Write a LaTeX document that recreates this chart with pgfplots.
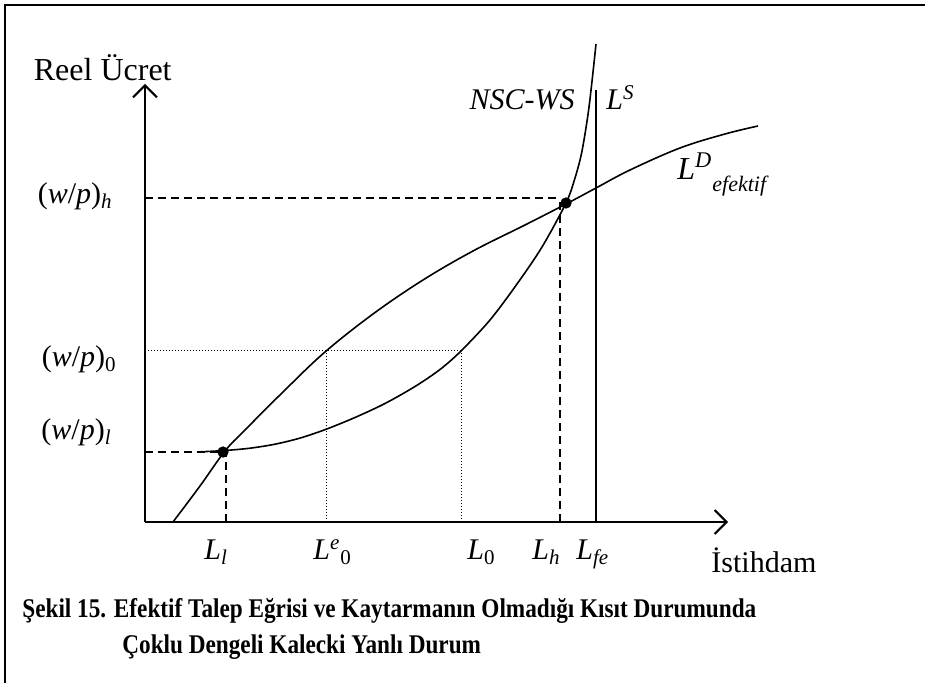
\documentclass[border=0pt]{standalone}
\usepackage{pgfplots}
\pgfplotsset{compat=1.18}
\usetikzlibrary{arrows.meta}
\usepackage{fontspec}
\setmainfont{Liberation Serif}
\newfontfamily\capfont[FakeStretch=0.86]{Liberation Serif}
\newcommand{\lab}{\fontsize{15}{18}\selectfont}
\begin{document}
\begin{tikzpicture}
\path[use as bounding box] (-72.5pt,-80.5pt) rectangle (390pt,261pt);
\draw[line width=1pt] (-70pt,-82pt) -- (-70pt,258.5pt) -- (395pt,258.5pt);
\begin{axis}[
  at={(0pt,0pt)}, anchor=south west, scale only axis,
  width=291.5pt, height=219pt,
  xmin=0, xmax=583, ymin=0, ymax=438,
  axis lines*=left,
  axis line style={line width=1pt,-{Straight Barb[length=6pt,width=12pt,line width=1pt]}},
  ticks=none, clip=false,
  dsh/.style={line width=0.9pt, dash pattern=on 4pt off 2.5pt},
  dtt/.style={line width=0.5pt, dash pattern=on 0.5pt off 1pt},
]
% effective labour demand
\addplot[line width=0.8pt, smooth, tension=0.6] coordinates {
(28,0) (55,36) (80,71) (100,92) (140,132) (180,170) (228,208) (278,242)
(328,271) (380,297) (421,318) (451,334) (485,352) (535,374) (580,388) (613,396)};
% NSC-WS
\addplot[line width=0.8pt, smooth, tension=0.5] coordinates {
(52,70) (80,71.5) (105,73.8) (130,77.8) (155,83.9) (181,92.7) (210,104.5)
(240,118.5) (270,135.5) (295,152.5) (316,171) (345,202) (372,238) (397,275)
(421,319) (430,344) (437,371) (444,415) (451,478)};
% L^S
\addplot[line width=0.8pt] coordinates {(451,0) (451,432)};
% dashed guides
\addplot[dsh] coordinates {(0,70) (78,70)};
\addplot[dsh] coordinates {(81,0) (81,70)};
\addplot[dsh] coordinates {(0,324) (415,324)};
\addplot[dsh] coordinates {(415,0) (415,324)};
% dotted guides
\addplot[dtt] coordinates {(0,171) (316,171)};
\addplot[dtt] coordinates {(181,0) (181,171)};
\addplot[dtt] coordinates {(316,0) (316,171)};
% equilibria
\addplot[only marks, mark=*, mark size=2.6pt] coordinates {(78,70) (421,319)};
% labels
\node[anchor=base east, inner sep=0pt] at (axis cs:27,441) {\fontsize{16}{19}\selectfont Reel Ücret};
\node[anchor=base east, inner sep=0pt] at (axis cs:-32,318) {\lab (\textit{w}/\textit{p})\textsubscript{\textit{h}}};
\node[anchor=base east, inner sep=0pt] at (axis cs:-28,155) {\lab (\textit{w}/\textit{p})\textsubscript{0}};
\node[anchor=base east, inner sep=0pt] at (axis cs:-33,82) {\lab (\textit{w}/\textit{p})\textsubscript{\textit{l}}};
\node[anchor=base west, inner sep=0pt] at (axis cs:59,-38) {\lab \textit{L}\textsubscript{\textit{l}}};
\node[anchor=base west, inner sep=0pt] at (axis cs:168,-38) {\lab \textit{L}\textsuperscript{\textit{e}}\textsubscript{0}};
\node[anchor=base west, inner sep=0pt] at (axis cs:322,-38) {\lab \textit{L}\textsubscript{0}};
\node[anchor=base west, inner sep=0pt] at (axis cs:387,-38) {\lab \textit{L}\textsubscript{\textit{h}}};
\node[anchor=base west, inner sep=0pt] at (axis cs:431,-38) {\lab \textit{L}\textsubscript{\textit{fe}}};
\node[anchor=base west, inner sep=0pt] at (axis cs:566,-51) {\lab İstihdam};
\node[anchor=base east, inner sep=0pt] at (axis cs:430,412) {\lab \textit{NSC-WS}};
\node[anchor=base west, inner sep=0pt] at (axis cs:461,412) {\lab \textit{L}\textsuperscript{\textit{S}}};
\node[anchor=base west, inner sep=0pt] at (axis cs:532,342) {\fontsize{16}{19}\selectfont \textit{L}\textsuperscript{\textit{D}}\raisebox{-0.35em}{\fontsize{11}{12}\selectfont\textit{efektif}}};
\node[anchor=base west, inner sep=0pt, font=\capfont\fontsize{13.5}{15}\selectfont\bfseries] at (axis cs:-123,-96) {Şekil 15. Efektif Talep Eğrisi ve Kaytarmanın Olmadığı Kısıt Durumunda};
\node[anchor=base west, inner sep=0pt, font=\capfont\fontsize{13.5}{15}\selectfont\bfseries] at (axis cs:-23,-132) {Çoklu Dengeli Kalecki Yanlı Durum};
\end{axis}
\end{tikzpicture}
\end{document}
